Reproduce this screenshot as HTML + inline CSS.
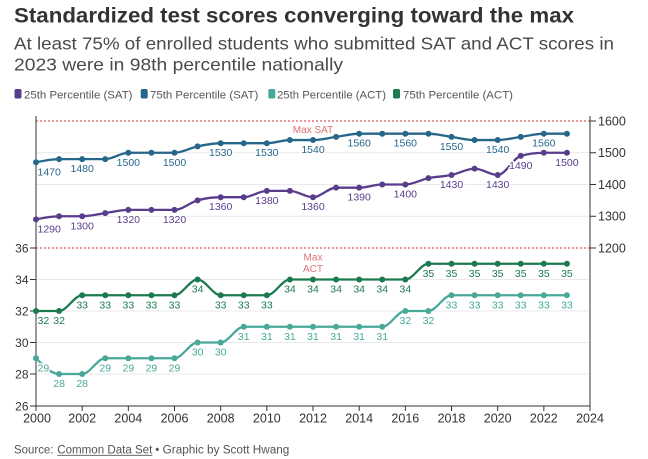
<!DOCTYPE html>
<html>
<head>
<meta charset="utf-8">
<style>
html,body{margin:0;padding:0;background:#fff;}
svg{display:block;font-family:"Liberation Sans",Arial,sans-serif;}
.lbl{font-size:10.5px;stroke:#fff;stroke-width:3;paint-order:stroke;stroke-linejoin:round;}
.ax{font-size:12px;fill:#333;}
.yr{font-size:12.5px;fill:#333;text-anchor:middle;}
</style>
</head>
<body>
<svg width="648" height="459" viewBox="0 0 648 459" xmlns="http://www.w3.org/2000/svg">
<rect width="648" height="459" fill="#fff"/>

<!-- Header -->
<text x="14" y="22.7" font-size="21.5" font-weight="bold" fill="#333" textLength="560" lengthAdjust="spacingAndGlyphs">Standardized test scores converging toward the max</text>
<text x="14" y="49.3" font-size="17.5" fill="#4a4a4a" textLength="600" lengthAdjust="spacingAndGlyphs">At least 75% of enrolled students who submitted SAT and ACT scores in</text>
<text x="14" y="70.7" font-size="17.5" fill="#4a4a4a" textLength="329" lengthAdjust="spacingAndGlyphs">2023 were in 98th percentile nationally</text>

<!-- Legend -->
<rect x="14.5" y="89" width="7" height="9.5" rx="1.8" fill="#593d8c"/>
<text x="24" y="98.3" font-size="10.8" fill="#555" textLength="108.5" lengthAdjust="spacingAndGlyphs">25th Percentile (SAT)</text>
<rect x="140.7" y="89" width="7" height="9.5" rx="1.8" fill="#25668a"/>
<text x="150" y="98.3" font-size="10.8" fill="#555" textLength="108.3" lengthAdjust="spacingAndGlyphs">75th Percentile (SAT)</text>
<rect x="268.3" y="89" width="7" height="9.5" rx="1.8" fill="#48a89a"/>
<text x="277" y="98.3" font-size="10.8" fill="#555" textLength="109" lengthAdjust="spacingAndGlyphs">25th Percentile (ACT)</text>
<rect x="393" y="89" width="7" height="9.5" rx="1.8" fill="#1d7a4f"/>
<text x="403" y="98.3" font-size="10.8" fill="#555" textLength="110" lengthAdjust="spacingAndGlyphs">75th Percentile (ACT)</text>

<!-- Gridlines -->
<g stroke="#e9e9e9" stroke-width="1">
<line x1="36" y1="152.75" x2="590" y2="152.75"/>
<line x1="36" y1="184.5" x2="590" y2="184.5"/>
<line x1="36" y1="216.25" x2="590" y2="216.25"/>
<line x1="36" y1="279.5" x2="590" y2="279.5"/>
<line x1="36" y1="311" x2="590" y2="311"/>
<line x1="36" y1="342.5" x2="590" y2="342.5"/>
<line x1="36" y1="374" x2="590" y2="374"/>
</g>

<!-- Max lines -->
<g stroke="#e05a5a" stroke-width="1.2" stroke-dasharray="2,2">
<line x1="36" y1="121" x2="590" y2="121"/>
<line x1="36" y1="248" x2="590" y2="248"/>
</g>
<text x="313" y="133" font-size="10" fill="#e07272" text-anchor="middle">Max SAT</text>
<text x="313" y="260.5" font-size="10" fill="#e07272" text-anchor="middle">Max</text>
<text x="313" y="272" font-size="10" fill="#e07272" text-anchor="middle">ACT</text>

<!-- Axes -->
<g stroke="#333" stroke-width="1" fill="none">
<line x1="36" y1="116" x2="36" y2="406"/>
<line x1="590" y1="116" x2="590" y2="406"/>
<line x1="36" y1="406" x2="590" y2="406"/>
<!-- left ticks -->
<line x1="30" y1="248" x2="36" y2="248"/>
<line x1="30" y1="279.5" x2="36" y2="279.5"/>
<line x1="30" y1="311" x2="36" y2="311"/>
<line x1="30" y1="342.5" x2="36" y2="342.5"/>
<line x1="30" y1="374" x2="36" y2="374"/>
<line x1="30" y1="406" x2="36" y2="406"/>
<!-- right ticks -->
<line x1="590" y1="121" x2="596" y2="121"/>
<line x1="590" y1="152.75" x2="596" y2="152.75"/>
<line x1="590" y1="184.5" x2="596" y2="184.5"/>
<line x1="590" y1="216.25" x2="596" y2="216.25"/>
<line x1="590" y1="248" x2="596" y2="248"/>
<!-- bottom ticks -->
<line x1="36" y1="406" x2="36" y2="411"/>
<line x1="82.17" y1="406" x2="82.17" y2="411"/>
<line x1="128.33" y1="406" x2="128.33" y2="411"/>
<line x1="174.5" y1="406" x2="174.5" y2="411"/>
<line x1="220.67" y1="406" x2="220.67" y2="411"/>
<line x1="266.83" y1="406" x2="266.83" y2="411"/>
<line x1="313" y1="406" x2="313" y2="411"/>
<line x1="359.17" y1="406" x2="359.17" y2="411"/>
<line x1="405.33" y1="406" x2="405.33" y2="411"/>
<line x1="451.5" y1="406" x2="451.5" y2="411"/>
<line x1="497.67" y1="406" x2="497.67" y2="411"/>
<line x1="543.83" y1="406" x2="543.83" y2="411"/>
<line x1="590" y1="406" x2="590" y2="411"/>
</g>

<!-- Axis labels -->
<g class="ax" text-anchor="end">
<text x="28.5" y="252.3">36</text>
<text x="28.5" y="283.8">34</text>
<text x="28.5" y="315.3">32</text>
<text x="28.5" y="346.8">30</text>
<text x="28.5" y="378.3">28</text>
<text x="28.5" y="410.3">26</text>
</g>
<g class="ax" style="font-size:12.5px">
<text x="598" y="125.4">1600</text>
<text x="598" y="157.1">1500</text>
<text x="598" y="188.9">1400</text>
<text x="598" y="220.6">1300</text>
<text x="598" y="252.4">1200</text>
</g>
<g class="yr">
<text x="37" y="422.3">2000</text>
<text x="82.17" y="422.3">2002</text>
<text x="128.33" y="422.3">2004</text>
<text x="174.5" y="422.3">2006</text>
<text x="220.67" y="422.3">2008</text>
<text x="266.83" y="422.3">2010</text>
<text x="313" y="422.3">2012</text>
<text x="359.17" y="422.3">2014</text>
<text x="405.33" y="422.3">2016</text>
<text x="451.5" y="422.3">2018</text>
<text x="497.67" y="422.3">2020</text>
<text x="543.83" y="422.3">2022</text>
<text x="590" y="422.3">2024</text>
</g>

<!-- Series lines -->
<g fill="none" stroke-width="2.3" stroke-linejoin="round" stroke-linecap="round">
<path stroke="#25668a" d="M36,162.3 C43.69,160.69 51.39,159.1 59.08,159.1 L105.25,159.1 C112.94,159.1 120.64,152.75 128.33,152.75 L174.5,152.75 C182.19,152.75 189.89,147.99 197.58,146.4 C205.27,144.81 212.98,143.2 220.67,143.2 L266.83,143.2 C274.52,143.2 282.23,140.05 289.92,140.05 L313,140.05 C320.69,140.05 328.39,137.93 336.08,136.9 C343.77,135.82 351.48,133.7 359.17,133.7 L428.42,133.7 C436.11,133.7 443.81,135.82 451.5,136.9 C459.19,137.93 466.89,140.05 474.58,140.05 L497.67,140.05 C505.36,140.05 513.06,137.93 520.75,136.9 C528.44,135.82 536.14,133.7 543.83,133.7 L566.92,133.7"/>
<path stroke="#593d8c" d="M36,219.43 C43.69,217.84 51.39,216.25 59.08,216.25 L82.17,216.25 C89.86,216.25 97.56,214.14 105.25,213.08 C112.94,212.02 120.64,209.9 128.33,209.9 L174.5,209.9 C182.19,209.9 189.89,202.5 197.58,200.38 C205.27,198.26 212.98,197.2 220.67,197.2 L243.75,197.2 C251.44,197.2 259.14,190.85 266.83,190.85 L289.92,190.85 C297.61,190.85 305.31,197.2 313,197.2 C320.69,197.2 328.39,187.68 336.08,187.68 L359.17,187.68 C366.86,187.68 374.56,184.5 382.25,184.5 L405.33,184.5 C413.02,184.5 420.73,179.74 428.42,178.15 C436.11,176.56 443.81,176.57 451.5,174.98 C459.19,173.39 466.89,168.63 474.58,168.63 C482.27,168.63 489.98,174.98 497.67,174.98 C505.36,174.98 513.06,158.05 520.75,155.93 C528.44,153.81 536.14,152.75 543.83,152.75 L566.92,152.75"/>
<path stroke="#1d7a4f" d="M36,311 L59.08,311 C66.77,311 74.48,295.25 82.17,295.25 L174.5,295.25 C182.19,295.25 189.89,279.5 197.58,279.5 C205.27,279.5 212.98,295.25 220.67,295.25 L266.83,295.25 C274.52,295.25 282.23,279.5 289.92,279.5 L405.33,279.5 C413.02,279.5 420.73,263.75 428.42,263.75 L566.92,263.75"/>
<path stroke="#48a89a" d="M36,358.25 C43.69,366.13 51.39,374 59.08,374 L82.17,374 C89.86,374 97.56,358.25 105.25,358.25 L174.5,358.25 C182.19,358.25 189.89,342.5 197.58,342.5 L220.67,342.5 C228.36,342.5 236.06,326.75 243.75,326.75 L382.25,326.75 C389.94,326.75 397.64,311 405.33,311 L428.42,311 C436.11,311 443.81,295.25 451.5,295.25 L566.92,295.25"/>
</g>

<!-- Dots -->
<g fill="#25668a">
<circle cx="36" cy="162.3" r="3"/><circle cx="59.08" cy="159.1" r="3"/><circle cx="82.17" cy="159.1" r="3"/><circle cx="105.25" cy="159.1" r="3"/><circle cx="128.33" cy="152.75" r="3"/><circle cx="151.42" cy="152.75" r="3"/><circle cx="174.5" cy="152.75" r="3"/><circle cx="197.58" cy="146.4" r="3"/><circle cx="220.67" cy="143.2" r="3"/><circle cx="243.75" cy="143.2" r="3"/><circle cx="266.83" cy="143.2" r="3"/><circle cx="289.92" cy="140.05" r="3"/><circle cx="313" cy="140.05" r="3"/><circle cx="336.08" cy="136.9" r="3"/><circle cx="359.17" cy="133.7" r="3"/><circle cx="382.25" cy="133.7" r="3"/><circle cx="405.33" cy="133.7" r="3"/><circle cx="428.42" cy="133.7" r="3"/><circle cx="451.5" cy="136.9" r="3"/><circle cx="474.58" cy="140.05" r="3"/><circle cx="497.67" cy="140.05" r="3"/><circle cx="520.75" cy="136.9" r="3"/><circle cx="543.83" cy="133.7" r="3"/><circle cx="566.92" cy="133.7" r="3"/>
</g>
<g fill="#593d8c">
<circle cx="36" cy="219.43" r="3"/><circle cx="59.08" cy="216.25" r="3"/><circle cx="82.17" cy="216.25" r="3"/><circle cx="105.25" cy="213.08" r="3"/><circle cx="128.33" cy="209.9" r="3"/><circle cx="151.42" cy="209.9" r="3"/><circle cx="174.5" cy="209.9" r="3"/><circle cx="197.58" cy="200.38" r="3"/><circle cx="220.67" cy="197.2" r="3"/><circle cx="243.75" cy="197.2" r="3"/><circle cx="266.83" cy="190.85" r="3"/><circle cx="289.92" cy="190.85" r="3"/><circle cx="313" cy="197.2" r="3"/><circle cx="336.08" cy="187.68" r="3"/><circle cx="359.17" cy="187.68" r="3"/><circle cx="382.25" cy="184.5" r="3"/><circle cx="405.33" cy="184.5" r="3"/><circle cx="428.42" cy="178.15" r="3"/><circle cx="451.5" cy="174.98" r="3"/><circle cx="474.58" cy="168.63" r="3"/><circle cx="497.67" cy="174.98" r="3"/><circle cx="520.75" cy="155.93" r="3"/><circle cx="543.83" cy="152.75" r="3"/><circle cx="566.92" cy="152.75" r="3"/>
</g>
<g fill="#1d7a4f">
<circle cx="36" cy="311" r="3"/><circle cx="59.08" cy="311" r="3"/><circle cx="82.17" cy="295.25" r="3"/><circle cx="105.25" cy="295.25" r="3"/><circle cx="128.33" cy="295.25" r="3"/><circle cx="151.42" cy="295.25" r="3"/><circle cx="174.5" cy="295.25" r="3"/><circle cx="197.58" cy="279.5" r="3"/><circle cx="220.67" cy="295.25" r="3"/><circle cx="243.75" cy="295.25" r="3"/><circle cx="266.83" cy="295.25" r="3"/><circle cx="289.92" cy="279.5" r="3"/><circle cx="313" cy="279.5" r="3"/><circle cx="336.08" cy="279.5" r="3"/><circle cx="359.17" cy="279.5" r="3"/><circle cx="382.25" cy="279.5" r="3"/><circle cx="405.33" cy="279.5" r="3"/><circle cx="428.42" cy="263.75" r="3"/><circle cx="451.5" cy="263.75" r="3"/><circle cx="474.58" cy="263.75" r="3"/><circle cx="497.67" cy="263.75" r="3"/><circle cx="520.75" cy="263.75" r="3"/><circle cx="543.83" cy="263.75" r="3"/><circle cx="566.92" cy="263.75" r="3"/>
</g>
<g fill="#48a89a">
<circle cx="36" cy="358.25" r="3"/><circle cx="59.08" cy="374" r="3"/><circle cx="82.17" cy="374" r="3"/><circle cx="105.25" cy="358.25" r="3"/><circle cx="128.33" cy="358.25" r="3"/><circle cx="151.42" cy="358.25" r="3"/><circle cx="174.5" cy="358.25" r="3"/><circle cx="197.58" cy="342.5" r="3"/><circle cx="220.67" cy="342.5" r="3"/><circle cx="243.75" cy="326.75" r="3"/><circle cx="266.83" cy="326.75" r="3"/><circle cx="289.92" cy="326.75" r="3"/><circle cx="313" cy="326.75" r="3"/><circle cx="336.08" cy="326.75" r="3"/><circle cx="359.17" cy="326.75" r="3"/><circle cx="382.25" cy="326.75" r="3"/><circle cx="405.33" cy="311" r="3"/><circle cx="428.42" cy="311" r="3"/><circle cx="451.5" cy="295.25" r="3"/><circle cx="474.58" cy="295.25" r="3"/><circle cx="497.67" cy="295.25" r="3"/><circle cx="520.75" cy="295.25" r="3"/><circle cx="543.83" cy="295.25" r="3"/><circle cx="566.92" cy="295.25" r="3"/>
</g>

<!-- Data labels SAT 75th -->
<g class="lbl" fill="#25668a" text-anchor="middle">
<text x="37.5" y="175.3" text-anchor="start">1470</text>
<text x="82.17" y="172.1">1480</text>
<text x="128.33" y="165.75">1500</text>
<text x="174.5" y="165.75">1500</text>
<text x="220.67" y="156.2">1530</text>
<text x="266.83" y="156.2">1530</text>
<text x="313" y="153.05">1540</text>
<text x="359.17" y="146.7">1560</text>
<text x="405.33" y="146.7">1560</text>
<text x="451.5" y="149.9">1550</text>
<text x="497.67" y="153.05">1540</text>
<text x="543.83" y="146.7">1560</text>
</g>
<!-- Data labels SAT 25th -->
<g class="lbl" fill="#593d8c" text-anchor="middle">
<text x="37.5" y="232.4" text-anchor="start">1290</text>
<text x="82.17" y="229.25">1300</text>
<text x="128.33" y="222.9">1320</text>
<text x="174.5" y="222.9">1320</text>
<text x="220.67" y="210.2">1360</text>
<text x="266.83" y="203.85">1380</text>
<text x="313" y="210.2">1360</text>
<text x="359.17" y="200.7">1390</text>
<text x="405.33" y="197.5">1400</text>
<text x="451.5" y="188">1430</text>
<text x="497.67" y="188">1430</text>
<text x="520.75" y="168.9">1490</text>
<text x="566.92" y="165.75">1500</text>
</g>
<!-- Data labels ACT 75th -->
<g class="lbl" fill="#1d7a4f" text-anchor="middle">
<text x="37.5" y="324" text-anchor="start">32</text>
<text x="59.08" y="324">32</text>
<text x="82.17" y="308.25">33</text>
<text x="105.25" y="308.25">33</text>
<text x="128.33" y="308.25">33</text>
<text x="151.42" y="308.25">33</text>
<text x="174.5" y="308.25">33</text>
<text x="197.58" y="292.5">34</text>
<text x="220.67" y="308.25">33</text>
<text x="243.75" y="308.25">33</text>
<text x="266.83" y="308.25">33</text>
<text x="289.92" y="292.5">34</text>
<text x="313" y="292.5">34</text>
<text x="336.08" y="292.5">34</text>
<text x="359.17" y="292.5">34</text>
<text x="382.25" y="292.5">34</text>
<text x="405.33" y="292.5">34</text>
<text x="428.42" y="276.75">35</text>
<text x="451.5" y="276.75">35</text>
<text x="474.58" y="276.75">35</text>
<text x="497.67" y="276.75">35</text>
<text x="520.75" y="276.75">35</text>
<text x="543.83" y="276.75">35</text>
<text x="566.92" y="276.75">35</text>
</g>
<!-- Data labels ACT 25th -->
<g class="lbl" fill="#48a89a" text-anchor="middle">
<text x="37.5" y="371.25" text-anchor="start">29</text>
<text x="59.08" y="387">28</text>
<text x="82.17" y="387">28</text>
<text x="105.25" y="371.25">29</text>
<text x="128.33" y="371.25">29</text>
<text x="151.42" y="371.25">29</text>
<text x="174.5" y="371.25">29</text>
<text x="197.58" y="355.5">30</text>
<text x="220.67" y="355.5">30</text>
<text x="243.75" y="339.75">31</text>
<text x="266.83" y="339.75">31</text>
<text x="289.92" y="339.75">31</text>
<text x="313" y="339.75">31</text>
<text x="336.08" y="339.75">31</text>
<text x="359.17" y="339.75">31</text>
<text x="382.25" y="339.75">31</text>
<text x="405.33" y="324">32</text>
<text x="428.42" y="324">32</text>
<text x="451.5" y="308.25">33</text>
<text x="474.58" y="308.25">33</text>
<text x="497.67" y="308.25">33</text>
<text x="520.75" y="308.25">33</text>
<text x="543.83" y="308.25">33</text>
<text x="566.92" y="308.25">33</text>
</g>

<!-- Source -->
<text x="14" y="453.3" font-size="11.5" fill="#555" textLength="39.5" lengthAdjust="spacingAndGlyphs">Source:</text>
<text x="57.3" y="453.3" font-size="11.5" fill="#555" textLength="95" lengthAdjust="spacingAndGlyphs">Common Data Set</text>
<line x1="57.3" y1="455.3" x2="152.3" y2="455.3" stroke="#555" stroke-width="0.8"/>
<text x="155.3" y="453.3" font-size="11.5" fill="#555" textLength="134" lengthAdjust="spacingAndGlyphs">• Graphic by Scott Hwang</text>
</svg>
</body>
</html>
